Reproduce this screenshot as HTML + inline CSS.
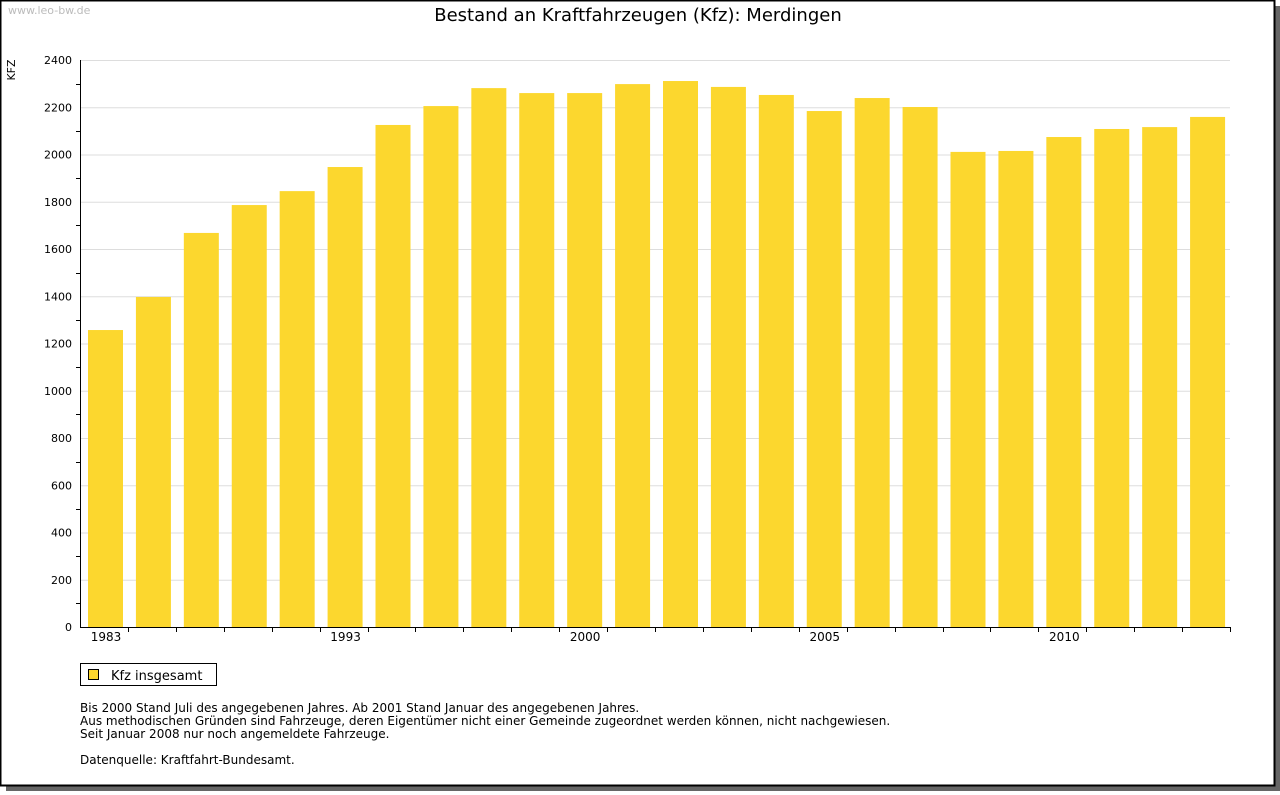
<!DOCTYPE html>
<html><head><meta charset="utf-8"><style>
body{margin:0;background:#fff;font-family:"DejaVu Sans","Liberation Sans",sans-serif;}
svg text{font-family:"DejaVu Sans","Liberation Sans",sans-serif;}
</style></head><body>
<svg id="c" width="1280" height="791" xmlns="http://www.w3.org/2000/svg">
<rect x="1275" y="6" width="5" height="785" fill="#666"/>
<rect x="6" y="786" width="1274" height="5" fill="#666"/>
<rect x="0.5" y="0.5" width="1274" height="785" fill="#fff" stroke="#000" stroke-width="2"/>
<text x="8" y="14" font-size="11" fill="#bbb">www.leo-bw.de</text>
<text x="638" y="21" font-size="18" text-anchor="middle">Bestand an Kraftfahrzeugen (Kfz): Merdingen</text>
<text transform="translate(15,70) rotate(-90)" font-size="11" text-anchor="middle">KFZ</text>
<g id="grid"></g><g id="bars"></g><g id="axes"></g>
<rect x="80.5" y="663.5" width="136" height="22" fill="#fff" stroke="#000"/>
<rect x="88.5" y="669.5" width="10" height="10" fill="#fcd72e" stroke="#000"/>
<text x="111" y="680" font-size="13">Kfz insgesamt</text>
<g font-size="12">
<text x="80" y="712">Bis 2000 Stand Juli des angegebenen Jahres. Ab 2001 Stand Januar des angegebenen Jahres.</text>
<text x="80" y="725">Aus methodischen Gründen sind Fahrzeuge, deren Eigentümer nicht einer Gemeinde zugeordnet werden können, nicht nachgewiesen.</text>
<text x="80" y="738">Seit Januar 2008 nur noch angemeldete Fahrzeuge.</text>
<text x="80" y="764">Datenquelle: Kraftfahrt-Bundesamt.</text>
</g>
</svg>
<script>
const categories=["1983","","","","","1993","","","","","2000","","","","","2005","","","","","2010","","",""];
const values=[1257,1397,1668,1786,1845,1947,2125,2205,2281,2260,2260,2298,2311,2286,2252,2184,2239,2201,2011,2015,2074,2108,2116,2159];
const yTicks=[0,200,400,600,800,1000,1200,1400,1600,1800,2000,2200,2400];
const NS="http://www.w3.org/2000/svg";
const X0=80,X1=1230,Y0=627,Y1=60,YMAX=2400;
const y=v=>Y0-(v/YMAX)*(Y0-Y1);
const slot=(X1-X0)/categories.length;
const x=i=>X0+i*slot;
function mk(t,a,p,txt){const e=document.createElementNS(NS,t);for(const k in a)e.setAttribute(k,a[k]);if(txt!=null)e.textContent=txt;p.appendChild(e);return e;}
const G=document.getElementById('grid'),B=document.getElementById('bars'),A=document.getElementById('axes');
yTicks.forEach(v=>{
 if(v>0){const l=mk('line',{x1:X0,x2:X1,y1:y(v)+0.5,y2:y(v)+0.5,stroke:'#ddd'},G);
 
 }
 const t=mk('text',{x:72,y:y(v)+4,'font-size':11,'text-anchor':'end'},A,String(v));
 
 
 if(v<YMAX){const m=mk('line',{x1:X0-4,x2:X0,y1:Math.round(y(v+100))+0.5,y2:Math.round(y(v+100))+0.5,stroke:'#000'},A);
 
 }
});
values.forEach((v,i)=>{
 const r=mk('rect',{x:x(i)+8,y:y(v),width:35,height:Y0-y(v),fill:'#fcd72e'},B);
 
 
 if(i>0){const tk=mk('line',{x1:Math.round(x(i))+0.5,x2:Math.round(x(i))+0.5,y1:Y0,y2:Y0+5,stroke:'#000'},A);
 
 }
 if(categories[i]){const t=mk('text',{x:x(i)+26,y:Y0+14,'font-size':12,'text-anchor':'middle'},A,categories[i]);
 
 }
});
const ya=mk('line',{x1:X0+0.5,x2:X0+0.5,y1:Y1,y2:Y0+1,stroke:'#000'},A);


const xa=mk('line',{x1:X0,x2:X1+1,y1:Y0+0.5,y2:Y0+0.5,stroke:'#000'},A);


const ye=mk('line',{x1:X1+0.5,x2:X1+0.5,y1:Y0,y2:Y0+5,stroke:'#000'},A);


</script>
</body></html>
